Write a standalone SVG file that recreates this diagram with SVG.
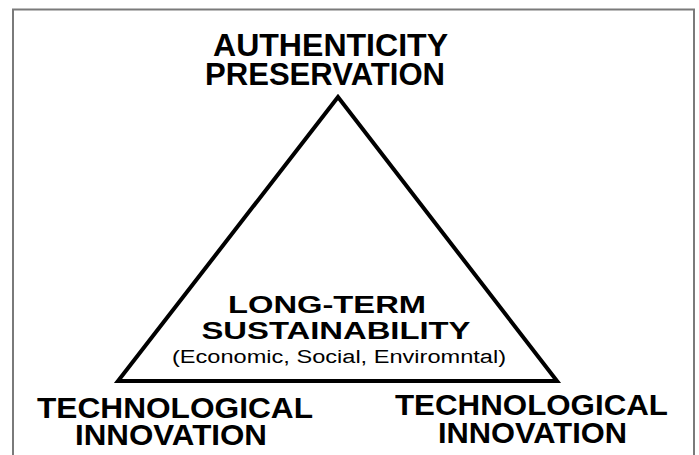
<svg xmlns="http://www.w3.org/2000/svg" width="699" height="455" viewBox="0 0 699 455">
  <style>
    text { font-family: "Liberation Sans", Arial, sans-serif; fill: #000; text-anchor: middle; }
    .b { font-weight: bold; }
    .edge { fill: none; stroke: #000; stroke-width: 4; stroke-linejoin: miter; }
  </style>
  <rect x="0" y="0" width="699" height="455" fill="#fff"/>
  <path d="M13 470 V9.5 H694 V470" fill="none" stroke="#7a7a7a" stroke-width="2"/>
  <g id="connectors">
    <polygon class="edge" points="338,97 118,381 557,381"/>
  </g>
  <g id="node-authenticity">
    <text class="b" x="330.5" y="56" font-size="32" textLength="235" lengthAdjust="spacingAndGlyphs">AUTHENTICITY</text>
    <text class="b" x="325" y="85" font-size="31" textLength="240" lengthAdjust="spacingAndGlyphs">PRESERVATION</text>
  </g>
  <g id="node-sustainability">
    <text class="b" x="327" y="313" font-size="24" textLength="198" lengthAdjust="spacingAndGlyphs">LONG-TERM</text>
    <text class="b" x="336" y="339" font-size="24" textLength="269" lengthAdjust="spacingAndGlyphs">SUSTAINABILITY</text>
    <text x="339" y="363" font-size="18" textLength="334" lengthAdjust="spacingAndGlyphs">(Economic, Social, Enviromntal)</text>
  </g>
  <g id="node-tech-left">
    <text class="b" x="175" y="418" font-size="29" textLength="276" lengthAdjust="spacingAndGlyphs">TECHNOLOGICAL</text>
    <text class="b" x="171" y="445" font-size="30" textLength="192" lengthAdjust="spacingAndGlyphs">INNOVATION</text>
  </g>
  <g id="node-tech-right">
    <text class="b" x="531.5" y="415" font-size="29" textLength="273" lengthAdjust="spacingAndGlyphs">TECHNOLOGICAL</text>
    <text class="b" x="532.5" y="443" font-size="30" textLength="189" lengthAdjust="spacingAndGlyphs">INNOVATION</text>
  </g>
</svg>
